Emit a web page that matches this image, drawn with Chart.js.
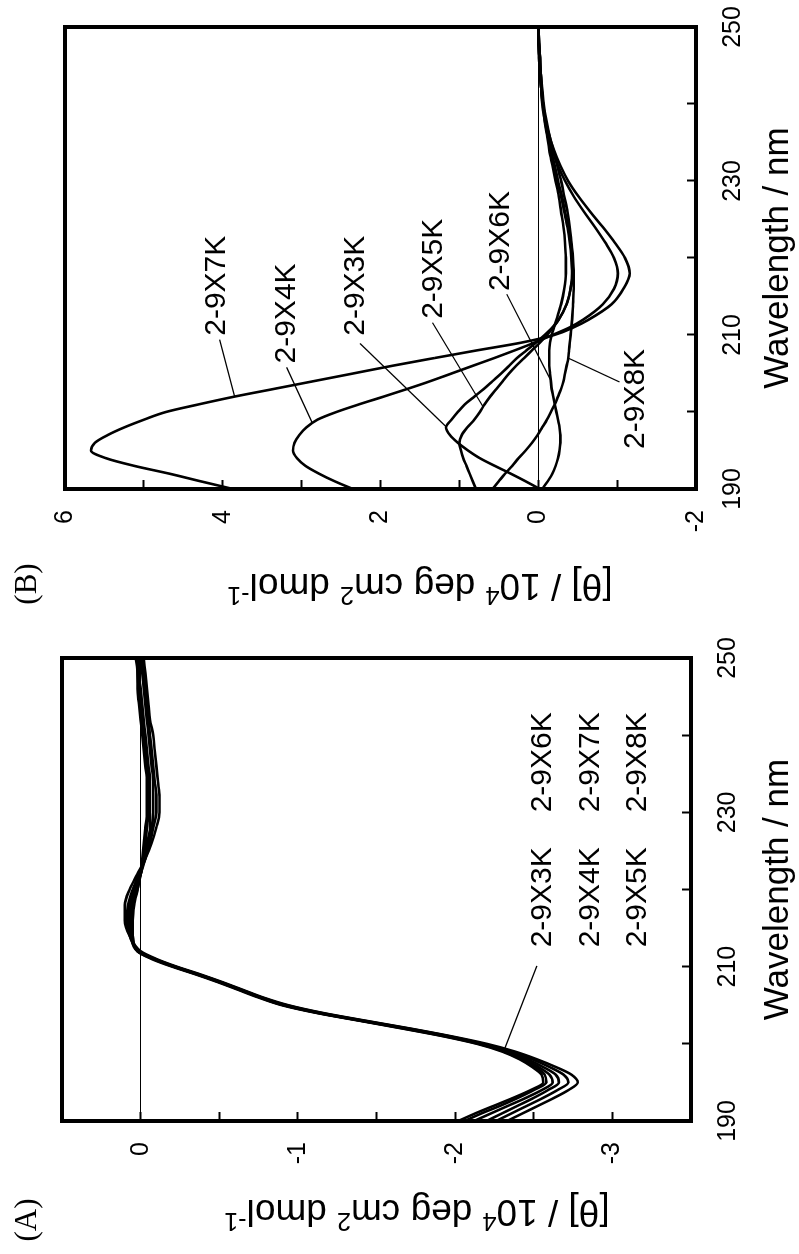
<!DOCTYPE html>
<html>
<head>
<meta charset="utf-8">
<script src="https://cdn.jsdelivr.net/npm/chart.js@4.4.1/dist/chart.umd.min.js"></script>
<style>
  html, body { margin: 0; padding: 0; background: #fff; overflow: hidden; width: 799px; height: 1254px; }
  /* the figure is laid out landscape and turned a quarter turn */
  #sheet { position: absolute; left: 0; top: 0; width: 1254px; height: 799px; background: #fff;
           transform-origin: 0 0; transform: translateY(1254px) rotate(-90deg); }
  #panelA { position: absolute; left: 0; top: 0; }
  #panelB { position: absolute; left: 630px; top: 0; }
</style>
</head>
<body>
<div id="sheet">
  <canvas id="panelA" width="630" height="799"></canvas>
  <canvas id="panelB" width="624" height="799"></canvas>
</div>
<script>
// Wavelength grid (nm)
const wavelength = [190,191,192,193,194,195,196,197,198,199,200,201,202,203,204,205,206,207,208,209,210,211,212,
                    214,216,218,220,222,224,226,228,230,232,234,236,238,240,242,244,246,248,250];

const sampleNames = ['2-9X3K', '2-9X4K', '2-9X5K', '2-9X6K', '2-9X7K', '2-9X8K'];

// (A) mean residue ellipticity, 10^4 deg cm2 dmol-1
const a3K = [-2.33,-2.43,-2.53,-2.63,-2.72,-2.78,-2.74,-2.64,-2.52,-2.38,-2.20,-1.97,-1.71,-1.43,-1.16,-0.94,-0.78,-0.65,-0.52,-0.38,-0.23,-0.10,0.00,
             0.07,0.10,0.10,0.07,0.02,-0.03,-0.07,-0.10,-0.12,-0.12,-0.11,-0.10,-0.09,-0.08,-0.06,-0.05,-0.04,-0.03,-0.02];
const a4K = [-2.26,-2.36,-2.46,-2.56,-2.65,-2.72,-2.69,-2.60,-2.49,-2.36,-2.18,-1.96,-1.70,-1.42,-1.15,-0.93,-0.77,-0.64,-0.51,-0.37,-0.22,-0.09,0.01,
             0.07,0.09,0.08,0.05,0.01,-0.03,-0.06,-0.08,-0.10,-0.10,-0.09,-0.08,-0.07,-0.06,-0.05,-0.04,-0.03,-0.02,-0.01];
const a5K = [-2.20,-2.30,-2.40,-2.50,-2.59,-2.66,-2.64,-2.56,-2.46,-2.34,-2.17,-1.95,-1.69,-1.41,-1.14,-0.92,-0.77,-0.64,-0.51,-0.37,-0.22,-0.09,0.01,
             0.06,0.08,0.07,0.04,0.00,-0.03,-0.05,-0.07,-0.08,-0.08,-0.08,-0.07,-0.06,-0.05,-0.04,-0.03,-0.02,-0.01,0.00];
const a6K = [-2.12,-2.23,-2.34,-2.45,-2.55,-2.62,-2.60,-2.53,-2.44,-2.32,-2.16,-1.94,-1.68,-1.40,-1.13,-0.91,-0.76,-0.63,-0.50,-0.36,-0.21,-0.08,0.02,
             0.06,0.07,0.06,0.03,0.00,-0.02,-0.04,-0.06,-0.06,-0.06,-0.06,-0.05,-0.04,-0.03,-0.02,-0.01,0.00,0.01,0.01];
const a7K = [-2.06,-2.17,-2.29,-2.40,-2.50,-2.58,-2.57,-2.51,-2.42,-2.31,-2.15,-1.93,-1.67,-1.40,-1.13,-0.91,-0.76,-0.63,-0.50,-0.36,-0.21,-0.08,0.02,
             0.05,0.06,0.05,0.02,0.00,-0.02,-0.03,-0.04,-0.05,-0.05,-0.05,-0.04,-0.03,-0.02,-0.01,0.00,0.01,0.02,0.02];
const a8K = [-2.02,-2.13,-2.25,-2.37,-2.48,-2.56,-2.55,-2.49,-2.41,-2.30,-2.14,-1.92,-1.66,-1.39,-1.12,-0.90,-0.75,-0.62,-0.49,-0.35,-0.20,-0.07,0.02,
             0.05,0.05,0.04,0.02,0.00,-0.01,-0.02,-0.03,-0.04,-0.04,-0.04,-0.03,-0.02,-0.01,0.00,0.01,0.02,0.02,0.03];

// (B) mean residue ellipticity, 10^4 deg cm2 dmol-1
const b3K = [-0.02,0.16,0.35,0.55,0.74,0.89,1.02,1.12,1.17,1.10,1.02,0.93,0.81,0.69,0.58,0.47,0.37,0.27,0.15,0.03,-0.08,-0.18,-0.26,
             -0.36,-0.41,-0.43,-0.42,-0.40,-0.37,-0.33,-0.29,-0.24,-0.20,-0.16,-0.12,-0.09,-0.06,-0.04,-0.02,-0.01,0.00,0.00];
const b4K = [2.35,2.58,2.78,2.95,3.06,3.11,3.09,3.03,2.94,2.80,2.56,2.27,1.96,1.66,1.37,1.10,0.83,0.56,0.30,0.05,-0.18,-0.40,-0.57,
             -0.82,-0.96,-1.01,-0.96,-0.85,-0.72,-0.58,-0.45,-0.34,-0.25,-0.18,-0.12,-0.08,-0.05,-0.04,-0.03,-0.02,-0.01,0.00];
const b5K = [0.79,0.83,0.87,0.91,0.95,0.98,1.00,0.97,0.90,0.81,0.74,0.68,0.61,0.53,0.45,0.37,0.28,0.18,0.08,-0.02,-0.11,-0.19,-0.26,
             -0.36,-0.41,-0.44,-0.43,-0.41,-0.38,-0.34,-0.30,-0.25,-0.21,-0.16,-0.12,-0.09,-0.06,-0.04,-0.02,-0.01,0.00,0.00];
const b6K = [-0.05,-0.12,-0.18,-0.22,-0.25,-0.27,-0.28,-0.28,-0.27,-0.25,-0.23,-0.21,-0.19,-0.17,-0.16,-0.15,-0.14,-0.14,-0.14,-0.15,-0.17,-0.20,-0.23,
             -0.29,-0.33,-0.35,-0.35,-0.34,-0.32,-0.29,-0.26,-0.22,-0.18,-0.14,-0.11,-0.08,-0.06,-0.04,-0.03,-0.02,-0.01,0.00];
const b7K = [3.87,4.28,4.68,5.12,5.48,5.67,5.62,5.46,5.25,5.00,4.72,4.30,3.85,3.35,2.85,2.35,1.85,1.32,0.78,0.22,-0.20,-0.45,-0.64,
             -0.93,-1.08,-1.16,-1.10,-0.97,-0.82,-0.66,-0.51,-0.38,-0.28,-0.20,-0.14,-0.09,-0.06,-0.04,-0.03,-0.02,-0.01,0.00];
const b8K = [0.58,0.50,0.42,0.33,0.25,0.16,0.08,0.01,-0.05,-0.11,-0.16,-0.21,-0.25,-0.29,-0.32,-0.34,-0.36,-0.38,-0.39,-0.40,-0.41,-0.42,-0.43,
             -0.44,-0.45,-0.45,-0.44,-0.42,-0.40,-0.37,-0.33,-0.29,-0.24,-0.19,-0.14,-0.10,-0.07,-0.05,-0.03,-0.02,-0.01,0.00];

// Axis tick settings
const wavelengthRange = [190, 250];
const wavelengthLabelled = [190, 210, 230, 250];
const thetaRangeA = [-3.5, 0.5];
const thetaLabelledA = [0, -1, -2, -3];
const thetaRangeB = [-2, 6];
const thetaLabelledB = [6, 4, 2, 0, -2];

const SANS = '"Liberation Sans", Arial, Helvetica, sans-serif';
const SERIF = '"Liberation Serif", "Times New Roman", serif';

// Ordinate title with raised exponents, written along the axis
function drawThetaTitle(ctx, cx, cy) {
  const big = 37, small = 25, rise = 13;
  const parts = [['[\u03B8] / 10', 0], ['4', 1], [' deg cm', 0], ['2', 1], [' dmol', 0], ['-1', 1]];
  ctx.save();
  ctx.translate(cx, cy);
  ctx.rotate(-Math.PI / 2);
  ctx.fillStyle = '#000';
  ctx.textAlign = 'left';
  ctx.textBaseline = 'alphabetic';
  const widths = parts.map(([t, s]) => {
    ctx.font = (s ? small : big) + 'px ' + SANS;
    return ctx.measureText(t).width;
  });
  let x = -widths.reduce((p, w) => p + w, 0) / 2;
  parts.forEach(([t, s], i) => {
    ctx.font = (s ? small : big) + 'px ' + SANS;
    ctx.fillText(t, x, s ? 13 - rise : 13);
    x += widths[i];
  });
  ctx.restore();
}

// Frame, curve tags with leader lines, panel letter and ordinate title
const panelDecor = {
  id: 'panelDecor',
  afterDraw(chart, args, o) {
    const { ctx, chartArea: a, scales: { x, y } } = chart;
    ctx.save();
    ctx.strokeStyle = '#000';
    ctx.lineWidth = 1.2;
    o.leaders.forEach(l => {
      ctx.beginPath();
      ctx.moveTo(x.getPixelForValue(l[0]), y.getPixelForValue(l[1]));
      ctx.lineTo(x.getPixelForValue(l[2]), y.getPixelForValue(l[3]));
      ctx.stroke();
    });
    ctx.fillStyle = '#000';
    ctx.font = '30px ' + SANS;
    ctx.textAlign = 'left';
    ctx.textBaseline = 'middle';
    o.tags.forEach(t => ctx.fillText(t.text, x.getPixelForValue(t.at[0]), y.getPixelForValue(t.at[1])));
    ctx.lineWidth = 4;
    ctx.strokeRect(a.left, a.top, a.right - a.left, a.bottom - a.top);
    ctx.font = '31px ' + SERIF;
    ctx.textAlign = 'center';
    ctx.fillText(o.letter, o.letterAt[0], o.letterAt[1]);
    ctx.restore();
    drawThetaTitle(ctx, o.titleAt[0], o.titleAt[1]);
  }
};

function buildPanel(canvasId, series, thetaRange, thetaStep, thetaLabelled, frame, decor) {
  return new Chart(document.getElementById(canvasId), {
    type: 'line',
    data: {
      datasets: series.map((vals, i) => ({
        label: sampleNames[i],
        data: wavelength.map((w, j) => ({ x: w, y: vals[j] })),
        borderColor: '#000',
        borderWidth: 2.6,
        pointRadius: 0,
        fill: false,
        cubicInterpolationMode: 'monotone'
      }))
    },
    options: {
      responsive: false,
      animation: false,
      devicePixelRatio: 1,
      layout: { padding: frame.pad },
      plugins: { legend: { display: false }, tooltip: { enabled: false }, panelDecor: decor },
      scales: {
        x: {
          type: 'linear',
          min: wavelengthRange[0], max: wavelengthRange[1],
          afterFit: s => { s.height = frame.xh; s.paddingLeft = 0; s.paddingRight = 0; },
          border: { display: false },
          grid: { drawOnChartArea: false, tickLength: -9, tickWidth: 2, tickColor: '#000', color: '#000' },
          ticks: {
            stepSize: 10, padding: 31, autoSkip: false, maxRotation: 0, color: '#000',
            font: { size: 25, family: SANS },
            callback: v => wavelengthLabelled.includes(v) ? String(v) : ''
          },
          title: { display: true, text: 'Wavelength / nm', color: '#000', padding: 0, font: { size: 35, family: SANS } }
        },
        y: {
          type: 'linear',
          min: thetaRange[0], max: thetaRange[1],
          afterFit: s => { s.width = frame.yw; s.paddingTop = 0; s.paddingBottom = 0; },
          border: { display: false },
          grid: {
            color: c => (c.tick && c.tick.value === 0) ? '#000' : 'rgba(0,0,0,0)',
            lineWidth: 1, tickLength: -9, tickWidth: 2, tickColor: '#000'
          },
          ticks: {
            stepSize: thetaStep, padding: 30, autoSkip: false, color: '#000',
            font: { size: 25, family: SANS },
            callback: v => thetaLabelled.includes(v) ? String(v) : ''
          }
        }
      }
    },
    plugins: [panelDecor]
  });
}

buildPanel('panelA', [a3K, a4K, a5K, a6K, a7K, a8K], thetaRangeA, 0.5, thetaLabelledA,
  { pad: { left: 0, top: 62, right: 34, bottom: 0 }, yw: 133, xh: 108 },
  {
    letter: '(A)', letterAt: [34, 28], titleAt: [41, 417],
    tags: [
      { text: '2-9X3K', at: [212.5, -2.56] }, { text: '2-9X6K', at: [230.0, -2.56] },
      { text: '2-9X4K', at: [212.5, -2.86] }, { text: '2-9X7K', at: [230.0, -2.86] },
      { text: '2-9X5K', at: [212.5, -3.16] }, { text: '2-9X8K', at: [230.0, -3.16] }
    ],
    leaders: [[210.1, -2.52, 199.1, -2.31]]
  });

buildPanel('panelB', [b3K, b4K, b5K, b6K, b7K, b8K], thetaRangeB, 1, thetaLabelledB,
  { pad: { left: 0, top: 65, right: 27, bottom: 0 }, yw: 135, xh: 103 },
  {
    letter: '(B)', letterAt: [40, 28], titleAt: [37, 420],
    tags: [
      { text: '2-9X7K', at: [209.9, 4.07] },
      { text: '2-9X4K', at: [206.3, 3.19] },
      { text: '2-9X3K', at: [209.9, 2.32] },
      { text: '2-9X5K', at: [212.1, 1.32] },
      { text: '2-9X6K', at: [215.7, 0.47] },
      { text: '2-9X8K', at: [195.2, -1.24] }
    ],
    leaders: [
      [209.4, 4.04, 202.0, 3.85],
      [205.8, 3.19, 198.7, 2.87],
      [208.9, 2.26, 198.1, 1.17],
      [211.6, 1.34, 200.7, 0.70],
      [215.3, 0.40, 204.1, -0.16],
      [203.9, -1.03, 207.0, -0.38]
    ]
  });
</script>
</body>
</html>
